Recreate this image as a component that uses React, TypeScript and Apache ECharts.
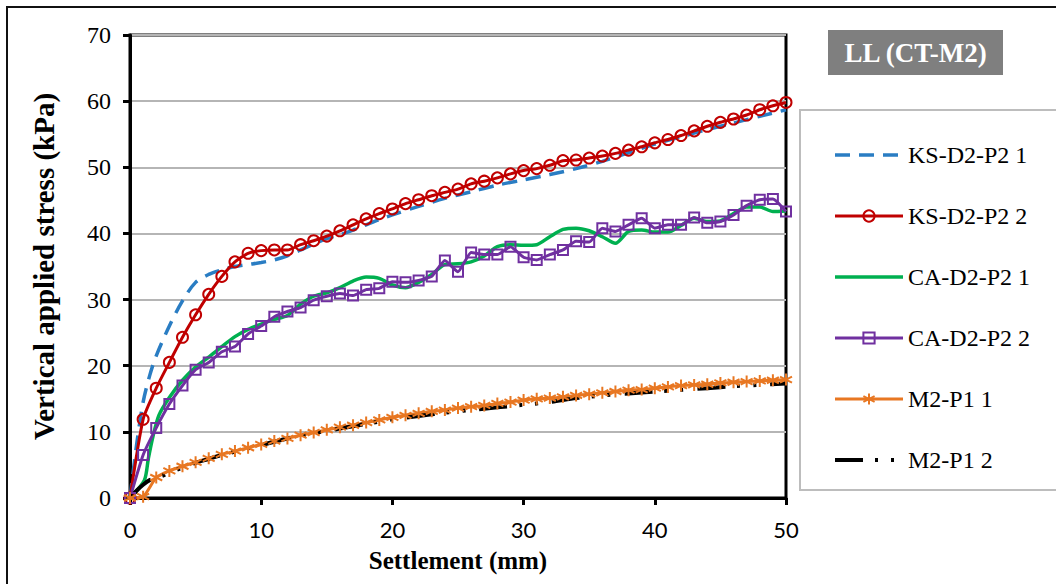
import React, { useEffect, useRef } from "react";
import * as echarts from "echarts";

// ---- data ----
const seriesNames = ["KS-D2-P2 1", "KS-D2-P2 2", "CA-D2-P2 1", "CA-D2-P2 2", "M2-P1 1", "M2-P1 2"];

// settlement positions of the marked series (every 1 mm)
const settlementMm = [
  0, 1, 2, 3, 4, 5, 6, 7, 8, 9, 10, 11, 12, 13, 14, 15, 16, 17, 18, 19, 20, 21, 22, 23, 24, 25,
  26, 27, 28, 29, 30, 31, 32, 33, 34, 35, 36, 37, 38, 39, 40, 41, 42, 43, 44, 45, 46, 47, 48, 49, 50,
];

// KS-D2-P2 1 (dashed blue)
const ks1X = [0, 0.5, 1, 1.5, 2, 3, 4, 5, 6, 7, 8, 9, 10, 11, 12, 13, 14, 15, 16, 17, 18, 19, 20, 22, 24, 26, 28, 30, 32, 34, 36, 38, 40, 42, 44, 46, 48, 50];
const ks1Y = [0, 8, 14.5, 18.5, 21.5, 26, 29.8, 32.6, 33.8, 34.5, 35, 35.3, 35.6, 36, 36.6, 37.5, 38.4, 39.2, 39.8, 40.5, 41.3, 42.1, 42.8, 44.1, 45.3, 46.3, 47.3, 48.1, 48.9, 49.8, 50.9, 52.2, 53.5, 54.6, 55.7, 56.7, 57.7, 58.7];

// KS-D2-P2 2 (red circles)
const ks2Y = [
  0, 11.9, 16.6, 20.5, 24.3, 27.7, 30.8, 33.5, 35.7, 37.0, 37.4, 37.5, 37.5, 38.3, 38.9, 39.6, 40.4,
  41.3, 42.2, 43.0, 43.7, 44.5, 45.1, 45.7, 46.2, 46.7, 47.5, 47.9, 48.4, 49.0, 49.5, 49.8, 50.3,
  51.0, 51.1, 51.4, 51.7, 52.1, 52.6, 53.1, 53.7, 54.2, 54.8, 55.5, 56.2, 56.8, 57.3, 57.9, 58.7, 59.3, 59.8,
];

// CA-D2-P2 1 (green)
const ca1X = [0, 1.1, 1.4, 1.75, 2.2, 3, 4, 5, 6, 7, 8, 9, 10, 11, 12, 13, 14, 15, 16, 17, 18, 19, 20, 21, 22, 23, 24, 25, 26, 27, 28, 29, 30, 31, 32, 33, 34, 35, 36, 37, 38, 39, 40, 41, 42, 43, 44, 45, 46, 47, 48, 49, 50];
const ca1Y = [0, 2.7, 6, 9.3, 12.5, 15.2, 17.8, 19.8, 21.3, 22.9, 24.4, 25.5, 26.3, 27, 27.6, 29.3, 30.5, 31, 31.8, 32.8, 33.4, 33.2, 32.2, 31.8, 32.6, 33.8, 35.3, 35.4, 35.7, 36.6, 38, 38.3, 38.2, 38.3, 39.5, 40.6, 40.8, 40.4, 39.5, 38.5, 40.3, 40.5, 40.2, 40.2, 41.2, 42.3, 41.8, 41.9, 43, 44, 44, 43.3, 43.4];

// CA-D2-P2 2 (purple squares)
const ca2Y = [
  0, 6.5, 10.6, 14.2, 17.0, 19.4, 20.5, 22.1, 22.9, 24.8, 26.0, 27.4, 28.2, 28.8, 29.9, 30.5, 30.9,
  30.6, 31.5, 31.7, 32.7, 32.6, 32.9, 33.5, 35.9, 34.2, 37.1, 36.8, 36.8, 38.0, 36.4, 36.0, 36.8,
  37.5, 38.8, 38.7, 40.8, 40.3, 41.3, 42.3, 40.8, 41.3, 41.3, 42.4, 41.6, 41.8, 42.8, 44.2, 45.1, 45.2, 43.3,
];

// M2-P1 1 (orange asterisks)
const m1Y = [
  0, 0.2, 3.1, 4.1, 4.8, 5.4, 6.0, 6.6, 7.1, 7.6, 8.1, 8.6, 9.0, 9.5, 9.9, 10.3, 10.7, 11.0, 11.4,
  11.8, 12.2, 12.5, 12.8, 13.1, 13.3, 13.6, 13.8, 14.0, 14.3, 14.5, 14.8, 15.0, 15.1, 15.3, 15.5,
  15.7, 15.9, 16.1, 16.3, 16.4, 16.6, 16.8, 17.0, 17.1, 17.2, 17.4, 17.5, 17.6, 17.7, 17.8, 17.9,
];

// M2-P1 2 (black dash-dot-dot)
const m2X = [0, 0.5, 1, 1.5, 2, 3, 4, 5, 6, 7, 8, 9, 10, 12, 14, 16, 18, 20, 22, 24, 26, 28, 30, 32, 34, 36, 38, 40, 42, 44, 46, 48, 50];
const m2Y = [0, 1.1, 2.0, 2.7, 3.0, 3.8, 4.6, 5.3, 5.9, 6.5, 7.0, 7.5, 8.0, 9.0, 9.8, 10.5, 11.2, 11.9, 12.4, 12.9, 13.3, 13.7, 14.1, 14.5, 15.1, 15.5, 15.8, 16.1, 16.35, 16.6, 16.9, 17.1, 17.3];

const xTicks = { min: 0, max: 50, interval: 10 };
const yTicks = { min: 0, max: 70, interval: 10 };

const pair = (xs: number[], ys: number[]) => xs.map((x, i) => [x, ys[i]]);

const SERIF = "'Liberation Serif', 'Times New Roman', serif";
const SANS = "Lato, 'Liberation Sans', sans-serif";
const ASTERISK = "path://M5 0L5 10M1.2 2.5L8.8 7.5M8.8 2.5L1.2 7.5";
const NOFILL = "rgba(255,255,255,0)";

export default function App() {
  const ref = useRef<HTMLDivElement>(null);

  useEffect(() => {
    if (!ref.current) return;
    const chart = echarts.init(ref.current, null, { renderer: "svg" });
    const option: any = {
      animation: false,
      backgroundColor: "#fff",
      grid: {
        left: 130,
        top: 35,
        right: 270,
        bottom: 86,
        outerBoundsMode: "none",
        containLabel: false,
        show: true,
        borderColor: "#000",
        borderWidth: 3,
        backgroundColor: "transparent",
      },
      xAxis: {
        type: "value",
        ...xTicks,
        name: "Settlement (mm)",
        nameLocation: "middle",
        nameGap: 50,
        nameTextStyle: { fontFamily: SERIF, fontWeight: "bold", fontSize: 25, color: "#000" },
        axisLine: { show: true, onZero: false, lineStyle: { color: "#000", width: 3 } },
        axisTick: { show: true, inside: false, length: 7, lineStyle: { color: "#000", width: 3 } },
        axisLabel: { fontFamily: SANS, fontSize: 22, color: "#000", margin: 20 },
        splitLine: { show: false },
      },
      yAxis: {
        type: "value",
        ...yTicks,
        name: "Vertical applied stress (kPa)",
        nameLocation: "middle",
        nameGap: 72,
        nameTextStyle: { fontFamily: SERIF, fontWeight: "bold", fontSize: 29, color: "#000" },
        axisLine: { show: true, lineStyle: { color: "#000", width: 3 } },
        axisTick: { show: true, inside: false, length: 7, lineStyle: { color: "#000", width: 3 } },
        axisLabel: { fontFamily: SERIF, fontSize: 24, color: "#000", margin: 19 },
        splitLine: { show: true, lineStyle: { color: "#b5b5b5", width: 2 } },
      },
      legend: {
        orient: "vertical",
        left: 828,
        top: 138,
        itemWidth: 68,
        itemHeight: 14,
        itemGap: 37,
        lineStyle: { width: "inherit" },
        textStyle: { fontFamily: SERIF, fontSize: 24, color: "#000", lineHeight: 24 },
        data: seriesNames,
      },
      graphic: [
        {
          type: "rect",
          z: -10,
          shape: { x: 7, y: 7, width: 1080, height: 620 },
          style: { fill: "none", stroke: "#111", lineWidth: 2 },
        },
        {
          type: "rect",
          z: -5,
          shape: { x: 800, y: 110, width: 300, height: 380 },
          style: { fill: "#fff", stroke: "#bdbdbd", lineWidth: 2 },
        },
        {
          type: "group",
          children: [
            {
              type: "rect",
              shape: { x: 828, y: 30, width: 175, height: 45 },
              style: { fill: "#7f7f7f" },
            },
            {
              type: "text",
              x: 915.5,
              y: 53,
              style: {
                text: "LL (CT-M2)",
                fill: "#fff",
                font: `bold 27px ${SERIF}`,
                align: "center",
                verticalAlign: "middle",
              },
            },
          ],
        },
      ],
      series: [
        {
          name: seriesNames[0],
          type: "line",
          data: pair(ks1X, ks1Y),
          smooth: 0.3,
          showSymbol: false,
          symbol: "none",
          itemStyle: { color: NOFILL, borderColor: NOFILL },
          lineStyle: { color: "#2a7dc3", width: 3.5, type: [15, 9] },
        },
        {
          name: seriesNames[1],
          type: "line",
          data: pair(settlementMm, ks2Y),
          smooth: 0.2,
          symbol: "circle",
          symbolSize: 11,
          itemStyle: { color: NOFILL, borderColor: "#c00000", borderWidth: 2 },
          lineStyle: { color: "#c00000", width: 3 },
        },
        {
          name: seriesNames[2],
          type: "line",
          data: pair(ca1X, ca1Y),
          smooth: 0.25,
          showSymbol: false,
          symbol: "none",
          itemStyle: { color: NOFILL, borderColor: NOFILL },
          lineStyle: { color: "#00b050", width: 3.5 },
        },
        {
          name: seriesNames[3],
          type: "line",
          data: pair(settlementMm, ca2Y),
          smooth: 0.15,
          symbol: "rect",
          symbolSize: 10,
          itemStyle: { color: NOFILL, borderColor: "#7030a0", borderWidth: 2 },
          lineStyle: { color: "#7030a0", width: 3 },
        },
        {
          name: seriesNames[4],
          type: "line",
          data: pair(settlementMm, m1Y),
          smooth: 0.2,
          symbol: ASTERISK,
          symbolSize: 12,
          itemStyle: { color: "#e87722", borderColor: "#e87722", borderWidth: 2 },
          lineStyle: { color: "#e87722", width: 3 },
        },
        {
          name: seriesNames[5],
          type: "line",
          data: pair(m2X, m2Y),
          smooth: 0.3,
          showSymbol: false,
          symbol: "none",
          itemStyle: { color: NOFILL, borderColor: NOFILL },
          lineStyle: { color: "#000", width: 4, type: [28, 12, 3, 13, 3, 14] },
        },
      ],
    };
    chart.setOption(option);
    return () => chart.dispose();
  }, []);

  return (
    <div
      ref={ref}
      style={{ position: "fixed", left: 0, top: 0, width: 1056, height: 584, background: "#fff" }}
    />
  );
}
